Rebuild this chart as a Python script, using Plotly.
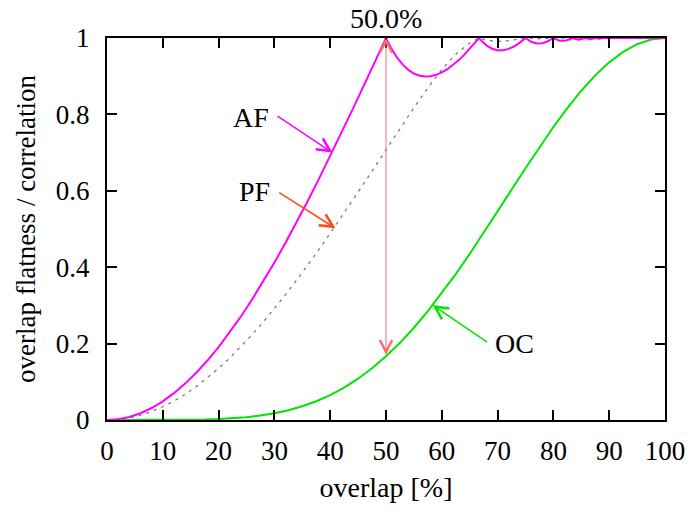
import plotly.graph_objects as go

# ---- data ----
af_x = [0, 2, 4, 6, 8, 10, 12, 14, 16, 18, 20, 22, 24, 26, 28, 30, 32, 34, 36, 38, 40,
        42, 44, 46, 48, 50, 51, 52, 53, 54, 55, 56, 57, 58, 59, 60, 61, 62, 63, 64, 65,
        66, 66.67, 67, 68, 69, 70, 71, 72, 73, 74, 75, 76, 77, 77.5, 78, 79, 80, 81,
        81.5, 82, 83, 83.33, 84.5, 85.71, 86.6, 87.5, 88.2, 88.89, 100]
af_y = [0, 0.0020, 0.0079, 0.0177, 0.0314, 0.0489, 0.0702, 0.0952, 0.1237, 0.1557,
        0.1910, 0.2295, 0.2710, 0.3155, 0.3626, 0.4122, 0.4642, 0.5182, 0.5742, 0.6319,
        0.6910, 0.7513, 0.8126, 0.8747, 0.9372, 1.0, 0.9715, 0.9483, 0.9302, 0.9166,
        0.9071, 0.9013, 0.8991, 0.8999, 0.9036, 0.9098, 0.9184, 0.9290, 0.9415, 0.9557,
        0.9713, 0.9881, 1.0, 0.9943, 0.9806, 0.9720, 0.9679, 0.9679, 0.9716, 0.9784,
        0.9880, 1.0, 0.9900, 0.9857, 0.9855, 0.9864, 0.9914, 1.0, 0.9932, 0.9922,
        0.9927, 0.9965, 1.0, 0.9953, 1.0, 0.9970, 1.0, 0.9980, 1.0, 1.0]

pf_x = [0, 2, 4, 6, 8, 10, 12, 14, 16, 18, 20, 22, 24, 26, 28, 30, 32, 34, 36, 38, 40,
        42, 44, 46, 48, 50, 52.5, 55, 57.5, 60, 62.5, 65, 66.67, 68, 70, 72, 74, 75,
        77.5, 80, 100]
pf_y = [0, 0.0014, 0.0056, 0.0125, 0.0222, 0.0346, 0.0496, 0.0673, 0.0875, 0.1101,
        0.1351, 0.1623, 0.1916, 0.2231, 0.2564, 0.2915, 0.3282, 0.3664, 0.4060, 0.4468,
        0.4886, 0.5312, 0.5746, 0.6185, 0.6627, 0.7071, 0.7626, 0.8172, 0.8696, 0.9173,
        0.9574, 0.9871, 1.0, 0.9938, 0.9909, 0.9930, 0.9980, 1.0, 0.9980, 1.0, 1.0]

oc_x = [0, 2.5, 5, 7.5, 10, 12.5, 15, 17.5, 20, 22.5, 25, 27.5, 30, 32.5, 35, 37.5, 40,
        42.5, 45, 47.5, 50, 52.5, 55, 57.5, 60, 62.5, 65, 67.5, 70, 72.5, 75, 77.5, 80,
        82.5, 85, 87.5, 90, 92.5, 95, 97.5, 100]
oc_y = [0, 0.0, 0.0, 0.00002, 0.00008, 0.00026, 0.00063, 0.00134, 0.00257, 0.00454,
        0.00751, 0.01180, 0.01773, 0.02568, 0.03600, 0.04907, 0.06525, 0.08485, 0.10816,
        0.13539, 0.16667, 0.20205, 0.24149, 0.28481, 0.33175, 0.38189, 0.43474, 0.48966,
        0.54593, 0.60273, 0.65916, 0.71427, 0.76710, 0.81666, 0.86197, 0.90211, 0.93626,
        0.96365, 0.98368, 0.99590, 1.0]

x_ticks = [0, 10, 20, 30, 40, 50, 60, 70, 80, 90, 100]
y_ticks = [0, 0.2, 0.4, 0.6, 0.8, 1]

FONT = "Liberation Serif, Times New Roman, serif"
MAGENTA = "#ff00ff"
GREEN = "#00e600"
ORANGE = "#ff4a1a"
RED = "#ff6a6a"

fig = go.Figure()
fig.add_trace(go.Scatter(x=pf_x, y=pf_y, mode="lines",
                         line=dict(color="#7a7a7a", width=1.3, dash="3px,5px"),
                         showlegend=False, hoverinfo="skip"))
fig.add_trace(go.Scatter(x=oc_x, y=oc_y, mode="lines",
                         line=dict(color=GREEN, width=2), showlegend=False))
fig.add_trace(go.Scatter(x=af_x, y=af_y, mode="lines",
                         line=dict(color=MAGENTA, width=2), showlegend=False))

annotations = [
    # double red arrow at 50 %
    dict(x=50, y=1.0, ax=50, ay=oc_y[oc_x.index(50)], xref="x", yref="y", axref="x", ayref="y",
         text="", showarrow=True, arrowside="end+start", arrowhead=5, startarrowhead=5,
         arrowsize=2.4, startarrowsize=2.4, arrowwidth=1, arrowcolor=RED),
    dict(x=50, y=1.05, xref="x", yref="paper", text="50.0%", showarrow=False,
         font=dict(family=FONT, size=28, color="black"), yanchor="middle"),
    # AF label + arrow
    dict(x=40.4, y=0.700, ax=30.3, ay=0.798, xref="x", yref="y", axref="x", ayref="y",
         text="", showarrow=True, arrowhead=5, arrowsize=1.7, arrowwidth=1.5,
         arrowcolor=MAGENTA),
    dict(x=25.8, y=0.793, xref="x", yref="y", text="AF", showarrow=False,
         font=dict(family=FONT, size=28, color="black")),
    # PF label + arrow
    dict(x=40.95, y=0.502, ax=30.6, ay=0.598, xref="x", yref="y", axref="x", ayref="y",
         text="", showarrow=True, arrowhead=5, arrowsize=1.7, arrowwidth=1.5,
         arrowcolor=ORANGE),
    dict(x=26.5, y=0.597, xref="x", yref="y", text="PF", showarrow=False,
         font=dict(family=FONT, size=28, color="black")),
    # OC label + arrow
    dict(x=58.35, y=0.301, ax=68.4, ay=0.201, xref="x", yref="y", axref="x", ayref="y",
         text="", showarrow=True, arrowhead=5, arrowsize=1.7, arrowwidth=1.5,
         arrowcolor=GREEN),
    dict(x=73.1, y=0.199, xref="x", yref="y", text="OC", showarrow=False,
         font=dict(family=FONT, size=28, color="black")),
]

axis_common = dict(showgrid=False, zeroline=False, showline=True, linecolor="black",
                   linewidth=2, mirror="ticks", ticks="inside", ticklen=10, tickwidth=2,
                   tickcolor="black", tickfont=dict(family=FONT, size=27, color="black"))

fig.update_layout(
    width=697, height=515,
    margin=dict(l=107, r=25, t=38, b=95),
    paper_bgcolor="white", plot_bgcolor="white",
    font=dict(family=FONT, color="black", size=27),
    xaxis=dict(range=[0, 100], tickvals=x_ticks, ticklabelstandoff=6,
               title=dict(text="overlap [%]", font=dict(family=FONT, size=28, color="black"),
                          standoff=12),
               **axis_common),
    yaxis=dict(range=[0, 1], tickvals=y_ticks, ticktext=[str(v) for v in y_ticks],
               ticklabelstandoff=10,
               title=dict(text="overlap flatness / correlation",
                          font=dict(family=FONT, size=27, color="black"), standoff=12),
               **axis_common),
    annotations=annotations,
    showlegend=False,
)

fig.write_html("out.html")
